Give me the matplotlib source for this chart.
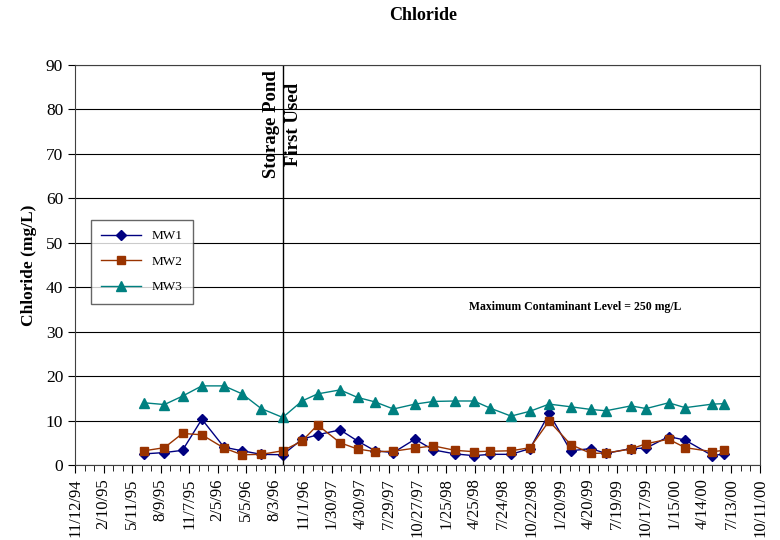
import matplotlib
matplotlib.use('Agg')
import matplotlib.pyplot as plt
import numpy as np
import datetime as dt

plt.rcParams['font.family'] = ['Liberation Serif', 'DejaVu Serif']

# sample dates
dates = ['6/18/95', '8/21/95', '10/17/95', '12/17/95', '2/25/96', '4/22/96',
         '6/21/96', '8/28/96', '10/28/96', '12/16/96', '2/25/97', '4/21/97',
         '6/15/97', '8/12/97', '10/19/97', '12/16/97', '2/22/98', '4/23/98',
         '6/13/98', '8/18/98', '10/17/98', '12/16/98', '2/22/99', '4/27/99',
         '6/13/99', '8/31/99', '10/18/99', '12/28/99', '2/18/00', '5/14/00',
         '6/20/00']

mw1 = [2.5, 2.8, 3.3, 10.3, 4.0, 3.2, 2.4, 2.3, 5.8, 6.8, 7.9, 5.4, 3.2, 2.8,
       5.8, 3.4, 2.5, 2.1, 2.4, 2.4, 3.7, 11.6, 3.2, 3.7, 2.6, 3.7, 3.8, 6.4,
       5.6, 2.1, 2.5]
mw2 = [3.2, 3.9, 7.1, 6.8, 3.8, 2.3, 2.4, 3.2, 5.4, 9.0, 5.0, 3.6, 3.0, 3.1,
       3.8, 4.3, 3.3, 3.0, 3.1, 3.2, 3.9, 9.9, 4.6, 2.6, 2.7, 3.6, 4.8, 5.8,
       3.9, 3.0, 3.3]
mw3 = [14.0, 13.6, 15.5, 17.8, 17.8, 16.0, 12.7, 10.7, 14.4, 16.0, 16.9, 15.2,
       14.2, 12.6, 13.7, 14.3, 14.4, 14.4, 12.8, 11.0, 12.1, 13.7, 13.1, 12.5,
       12.2, 13.3, 12.7, 14.0, 12.9, 13.7, 13.8]

pond_date = '8/28/96'
x_start = '11/12/94'
x_end = '10/11/00'


def to_date(s):
    return dt.datetime.strptime(s, '%m/%d/%y')


x = [to_date(d) for d in dates]
d0 = to_date(x_start)
d1 = to_date(x_end)

fig = plt.figure(figsize=(7.8, 5.4), dpi=100)
ax = fig.add_axes([75 / 780, 1 - 465 / 540, 685 / 780, 400 / 540])

ax.plot(x, mw1, color='#000080', marker='D', markersize=5, linewidth=1, label='MW1')
ax.plot(x, mw2, color='#993300', marker='s', markersize=6, linewidth=1, label='MW2')
ax.plot(x, mw3, color='#008080', marker='^', markersize=7, linewidth=1, label='MW3')

ax.set_xlim(d0, d1)
ax.set_ylim(0, 90)
ax.set_yticks(np.arange(0, 91, 10))
ax.yaxis.grid(True, color='black', linewidth=0.8)
ax.set_axisbelow(True)

major = [d0 + dt.timedelta(days=90 * k) for k in range(25)]
minor = [d0 + dt.timedelta(days=30 * k) for k in range(73)]
ax.set_xticks(major)
ax.set_xticks(minor, minor=True)
ax.set_xticklabels([f'{d.month}/{d.day}/{d.strftime("%y")}' for d in major],
                   rotation=90, fontsize=12)
ax.tick_params(axis='x', which='major', length=6, direction='out')
ax.tick_params(axis='x', which='minor', length=4, direction='out')
ax.tick_params(axis='y', labelsize=12.5, length=5)

for sp in ax.spines.values():
    sp.set_color('#404040')

pd_ = to_date(pond_date)
ax.axvline(pd_, color='black', linewidth=1)
ax.text(pd_, 88.8, 'Storage Pond\nFirst Used', rotation=90, ha='center', va='top',
        fontsize=13.5, fontweight='bold', linespacing=1.35)

ax.text(to_date('10/22/98') + dt.timedelta(days=138), 35.5,
        'Maximum Contaminant Level = 250 mg/L', ha='center', va='center',
        fontsize=8.5, fontweight='bold')

ax.set_ylabel('Chloride (mg/L)', fontsize=12.5, fontweight='bold', labelpad=6)
fig.text(0.542, 0.972, 'Chloride', ha='center', va='center', fontsize=13,
         fontweight='bold')

leg = ax.legend(loc='upper left', bbox_to_anchor=(0.013, 0.63), fontsize=9.5,
                frameon=True, fancybox=False, edgecolor='#404040',
                borderpad=0.8, labelspacing=1.0, handlelength=3)
leg.get_frame().set_linewidth(1)

fig.savefig('out.png', dpi=100)
